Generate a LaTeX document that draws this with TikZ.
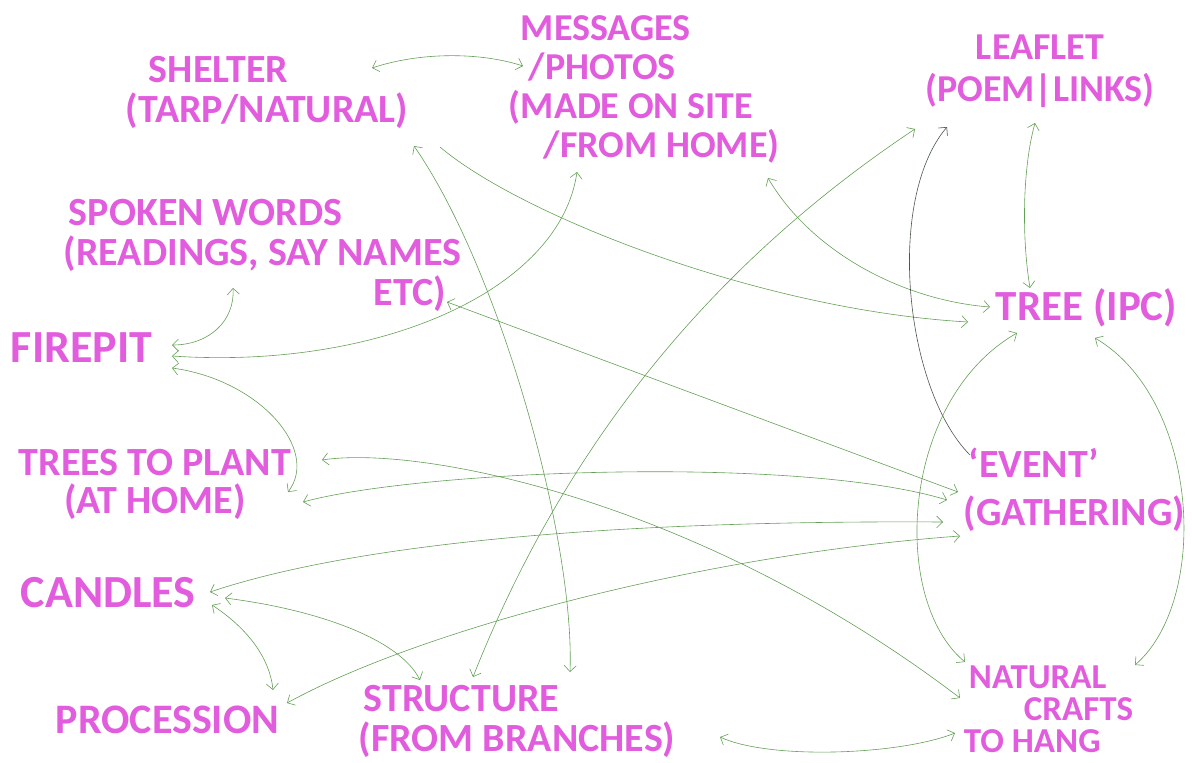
\documentclass[tikz,border=0pt]{standalone}
\usepackage{fontspec}
\setmainfont{Carlito}
\usepackage{tikz}
\usetikzlibrary{calc,arrows.meta}
\definecolor{inkpink}{RGB}{226,92,222}
\definecolor{inkgreen}{RGB}{100,160,85}
\definecolor{inkdark}{RGB}{75,85,75}

\begin{document}
\begin{tikzpicture}[x=1pt,y=1pt,yscale=-1,xscale=1,
  >={Straight Barb[length=6pt,width=12pt]},
  idea/.style={inner sep=0.75pt,text=inkpink,font=\fontsize{40}{40}\selectfont\bfseries},
  conn/.style={<->,draw=inkgreen,line width=0.6pt}]
\useasboundingbox (0,0) rectangle (1192,763);

% Text Node
\draw (125,92) node (shelter) [idea,anchor=west,align=left] {\hspace*{23pt}SHELTER\\(TARP/NATURAL)};
% Text Node
\draw (508,89) node (messages) [idea,anchor=west,align=left,font=\fontsize{38}{39}\selectfont\bfseries] {\hspace*{12pt}MESSAGES\\\hspace*{20pt}/PHOTOS\\(MADE ON SITE\\\hspace*{35pt}/FROM HOME)};
% Text Node
\draw (1040,71) node (leaflet) [idea,align=center,font=\fontsize{38}{42}\selectfont\bfseries] {LEAFLET\\(POEM|LINKS)};
% Text Node
\draw (63,255) node (spoken) [idea,anchor=west,align=left] {\hspace*{5pt}SPOKEN WORDS\\(READINGS, SAY NAMES\\\hspace*{310pt}ETC)};
% Text Node
\draw (10,348) node (firepit) [idea,anchor=west,font=\fontsize{46}{46}\selectfont\bfseries] {FIREPIT};
% Text Node
\draw (995,308) node (tree) [idea,anchor=west,font=\fontsize{43}{43}\selectfont\bfseries] {TREE (IPC)};
% Text Node
\draw (155,484) node (plant) [idea,align=center,font=\fontsize{40}{38}\selectfont\bfseries] {TREES TO PLANT\\(AT HOME)};
% Text Node
\draw (963,490) node (event) [idea,anchor=west,align=left] {\hspace*{5pt}‘EVENT’\\[8pt](GATHERING)};
% Text Node
\draw (20,593) node (candles) [idea,anchor=west,font=\fontsize{46}{46}\selectfont\bfseries] {CANDLES};
% Text Node
\draw (55,720) node (procession) [idea,anchor=west,font=\fontsize{42}{42}\selectfont\bfseries] {PROCESSION};
% Text Node
\draw (358,721) node (structure) [idea,anchor=west,align=left] {\hspace*{5pt}STRUCTURE\\(FROM BRANCHES)};
% Text Node
\draw (963,709) node (crafts) [idea,anchor=west,align=left,font=\fontsize{35}{32}\selectfont\bfseries] {\hspace*{5pt}NATURAL\\\hspace*{60pt}CRAFTS\\TO HANG};

%Curve Lines
\draw [conn] ($(shelter.west)+(247,-24)$) .. controls (420,52) and (480,52) .. ($(messages.west)+(15,-23)$) ;
%Curve Lines
\draw [conn] ($(shelter.west)+(289,54)$) .. controls (500,270) and (575,540) .. ($(structure.west)+(212,-49)$) ;
%Curve Lines
\draw [conn,<-] ($(tree.west)+(-27,14)$) .. controls (760,310) and (520,215) .. ($(shelter.west)+(315,55)$) ;
%Curve Lines
\draw [conn] ($(messages.west)+(69,83)$) .. controls (560,290) and (380,370) .. ($(firepit.west)+(162,8)$) ;
%Curve Lines
\draw [conn] ($(messages.west)+(260,89)$) .. controls (810,250) and (900,300) .. ($(tree.west)+(-5,-1)$) ;
%Curve Lines
\draw [conn] ($(leaflet.center)+(-125,58)$) .. controls (709,266) and (563,449) .. ($(structure.west)+(115,-44)$) ;
%Curve Lines
\draw [conn,->,draw=inkdark] ($(event.west)+(7,-35)$) .. controls (905,390) and (885,200) .. ($(leaflet.center)+(-93,56)$) ;
%Curve Lines
\draw [conn] ($(leaflet.center)+(-5,52)$) .. controls (1022,170) and (1022,240) .. ($(tree.west)+(35,-20)$) ;
%Curve Lines
\draw [conn] ($(spoken.west)+(170,33)$) .. controls (235,320) and (210,345) .. ($(firepit.west)+(162,-3)$) ;
%Straight Lines
\draw [conn] ($(spoken.west)+(384,47)$) -- ($(event.west)+(-5,2)$) ;
%Curve Lines
\draw [conn] ($(firepit.west)+(162,20)$) .. controls (260,380) and (320,450) .. ($(plant.center)+(133,8)$) ;
%Curve Lines
\draw [conn] ($(plant.center)+(167,-24)$) .. controls (420,445) and (700,500) .. ($(crafts.west)+(-3,-11)$) ;
%Curve Lines
\draw [conn] ($(plant.center)+(148,18)$) .. controls (420,470) and (800,455) .. ($(event.west)+(-16,10)$) ;
%Curve Lines
\draw [conn] ($(candles.west)+(190,-1)$) .. controls (350,545) and (600,520) .. ($(event.west)+(-20,32)$) ;
%Curve Lines
\draw [conn] ($(procession.west)+(232,-17)$) .. controls (420,630) and (700,555) .. ($(event.west)+(-3,46)$) ;
%Curve Lines
\draw [conn] ($(candles.west)+(192,12)$) .. controls (250,630) and (270,660) .. ($(procession.west)+(218,-30)$) ;
%Curve Lines
\draw [conn] ($(candles.west)+(205,5)$) .. controls (320,610) and (400,640) .. ($(structure.west)+(62,-41)$) ;
%Curve Lines
\draw [conn] ($(structure.west)+(362,16)$) .. controls (770,760) and (900,755) .. ($(crafts.west)+(-8,24)$) ;
%Curve Lines
\draw [conn] ($(tree.west)+(22,25)$) .. controls (900,400) and (890,600) .. ($(crafts.west)+(2,-47)$) ;
%Curve Lines
\draw [conn] ($(tree.west)+(100,30)$) .. controls (1200,400) and (1210,600) .. ($(crafts.west)+(172,-44)$) ;

\end{tikzpicture}
\end{document}
